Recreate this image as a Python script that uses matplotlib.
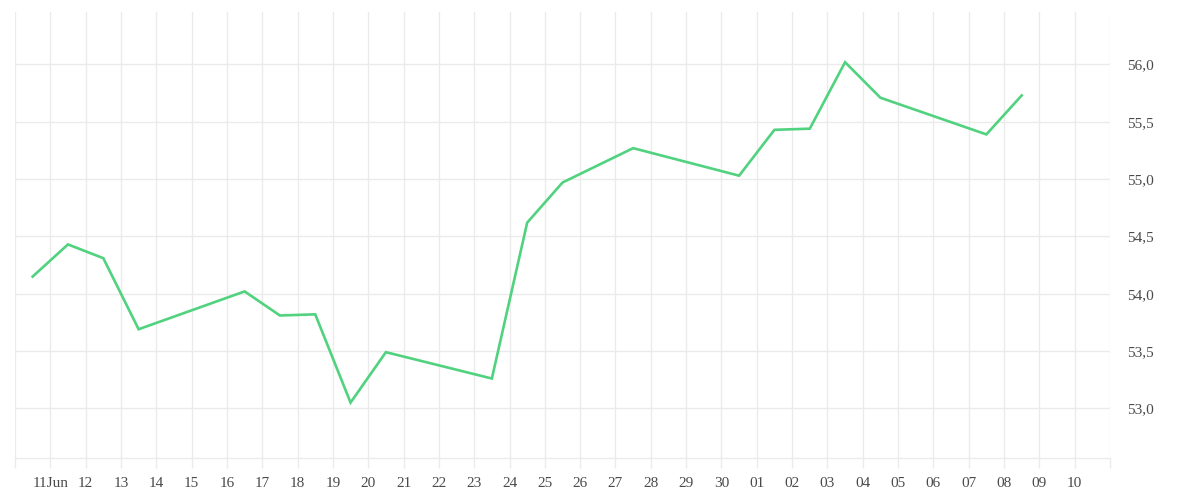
import matplotlib
matplotlib.use("Agg")
import matplotlib.pyplot as plt
import datetime as dt

dates = ["2019-06-10", "2019-06-11", "2019-06-12", "2019-06-13", "2019-06-16",
         "2019-06-17", "2019-06-18", "2019-06-19", "2019-06-20", "2019-06-23",
         "2019-06-24", "2019-06-25", "2019-06-27", "2019-06-30", "2019-07-01",
         "2019-07-02", "2019-07-03", "2019-07-04", "2019-07-07", "2019-07-08"]
values = [54.15, 54.43, 54.31, 53.69, 54.02, 53.81, 53.82, 53.05, 53.49, 53.26,
          54.62, 54.97, 55.27, 55.03, 55.43, 55.44, 56.02, 55.71, 55.39, 55.73]
y_ticks = [53.0, 53.5, 54.0, 54.5, 55.0, 55.5, 56.0]

x = [dt.datetime.strptime(d, "%Y-%m-%d") + dt.timedelta(hours=12) for d in dates]

grid_c = "#ebebeb"
text_c = "#4a4a4a"
line_c = "#50d27f"
font = ["Liberation Serif", "DejaVu Serif"]

fig = plt.figure(figsize=(12, 5), dpi=100)
ax = fig.add_axes([15/1200, 1 - 458.3/500, (1110 - 15)/1200, (458.3 - 12)/500])

ax.plot(x, values, color=line_c, lw=1.9, solid_joinstyle="miter", zorder=3)

x0 = dt.datetime(2019, 6, 10)
x1 = dt.datetime(2019, 7, 11)
ax.set_xlim(x0, x1)
ax.set_ylim(52.564, 56.458)

tick_days = [x0 + dt.timedelta(days=i) for i in range(32)]
labels = []
for i, d in enumerate(tick_days):
    if i == 0 or i == len(tick_days) - 1:
        labels.append("")
    elif i == 1:
        labels.append(d.strftime("%d") + "Jun")
    else:
        labels.append(d.strftime("%d"))
ax.set_xticks(tick_days)
ax.set_xticklabels(labels, fontfamily=font, fontsize=11, color=text_c)

ax.set_yticks(y_ticks)
ax.set_yticklabels([f"{v:.1f}".replace(".", ",") for v in y_ticks],
                   fontfamily=font, fontsize=11, color=text_c)
ax.yaxis.tick_right()

ax.grid(True, color=grid_c, lw=1)
ax.set_axisbelow(True)
ax.tick_params(axis="x", length=7.2, width=1, color=grid_c, pad=6)
ax.tick_params(axis="y", length=0, pad=12)
for s in ["top", "left", "right"]:
    ax.spines[s].set_visible(False)
ax.spines["bottom"].set_color(grid_c)
ax.spines["bottom"].set_linewidth(1)

fig.savefig("out.png", dpi=100, facecolor="white")
